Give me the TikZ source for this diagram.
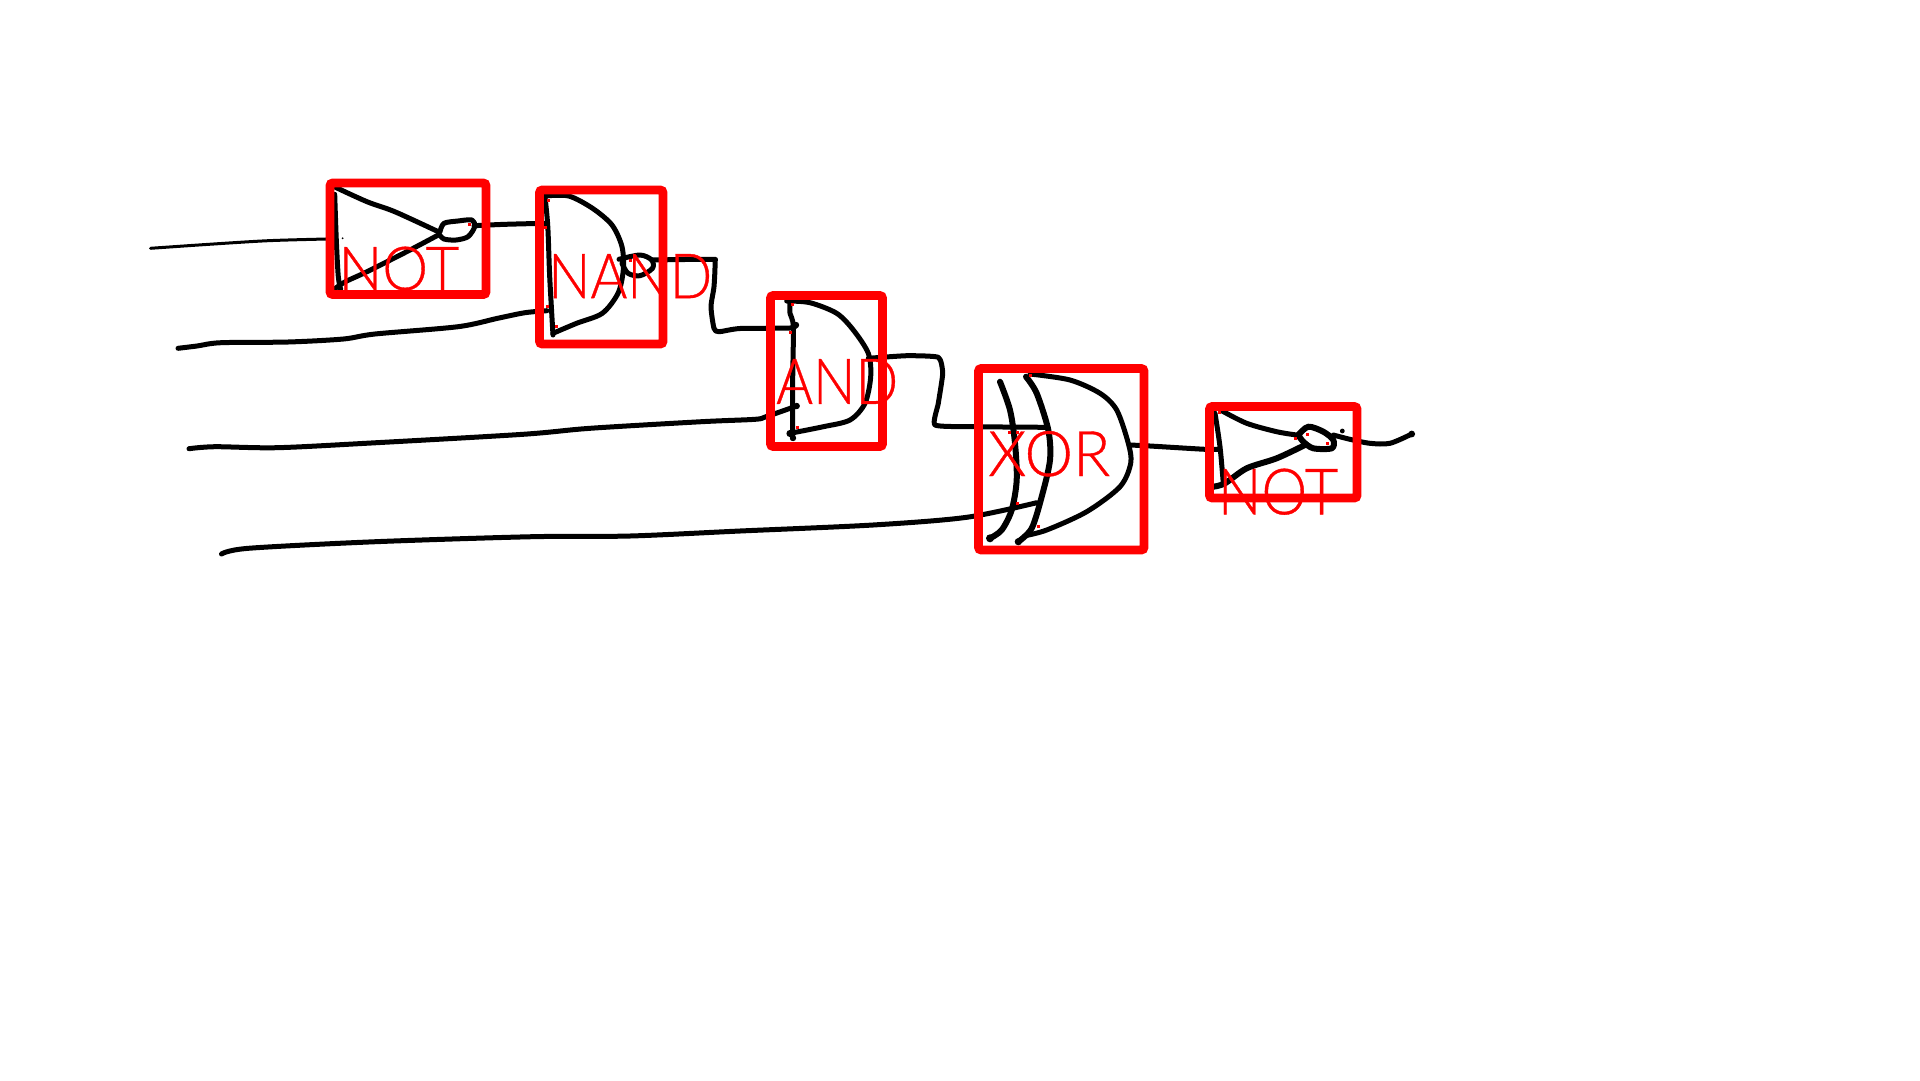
\documentclass[tikz,border=0pt]{standalone}
\usepackage{fontspec}
\usepackage{graphicx}
\newfontfamily\lblfont[FakeBold=0.6]{Lato Light}
\tikzset{
  ink/.style={draw=black,line width=5pt,line cap=round,line join=round},
  boldink/.style={draw=black,line width=6pt,line cap=round,line join=round},
  fineink/.style={draw=black,line width=3pt,line cap=round,line join=round},
  gatebox/.style={draw=boxred,line width=8.6pt,rounded corners=2.5pt,inner sep=0pt,fill=none},
  gatelabel/.style={text=boxred,inner sep=0pt,anchor=south west}
}
\definecolor{boxred}{RGB}{255,0,0}
\newcommand{\gatebox}[5]{\node[gatebox,minimum width=#4pt-#2pt,minimum height=#5pt-#3pt,anchor=center] (#1) at ({(#2+#4)/2},{(#3+#5)/2}) {};}
\newcommand{\gatetext}[6]{\node[gatelabel] (#1) at (#2,#5) {\resizebox{#6pt}{#4pt}{\lblfont #3}};}
\begin{document}
\begin{tikzpicture}[x=1pt,y=-1pt]
\useasboundingbox (0,0) rectangle (1920,1080);
\fill[white] (0,0) rectangle (1920,1080);
% input wires
\draw[fineink] plot[smooth,tension=.5] coordinates {(150.5,248.3)(209,244.3)(268,240.7)(325.7,239)(335,238.8)};
\draw[ink] plot[smooth,tension=.5] coordinates {(178,348.3)(197,346)(221,342.7)(288,342)(343.4,339)(375,334)(458,326.7)(497.6,318.3)(525,312.7)(547,310.7)};
\draw[ink] plot[smooth,tension=.5] coordinates {(189,448.7)(215,446.7)(277,447.7)(371,443)(523,434.3)(590,428.3)(701.4,421.7)(755,419.3)(766,416.7)(796.7,406)};
\draw[ink] plot[smooth,tension=.5] coordinates {(221.5,554)(248.3,548.3)(375.5,541.7)(532,536.7)(630,536)(740,531)(873,525)(966.7,517.3)(1036.7,502.7)};
% NOT gate 1
\draw[ink] plot[smooth,tension=.5] coordinates {(334.7,194.3)(336.3,240)(338.3,276.7)(340.7,289.3)};
\draw[ink] plot[smooth,tension=.5] coordinates {(335.5,187.3)(367,201.7)(394.8,211.7)(438.3,231.7)};
\draw[ink] plot[smooth,tension=.5] coordinates {(438.3,235)(406.7,251.7)(367,271.7)(345.4,281.7)(335.5,288.3)};
\draw[ink] plot[smooth,tension=.5] coordinates {(440,231.7)(444,223.3)(458,221)(472,220)(474.7,226.7)(468,236.7)(456,240)(444,239)(439,234)};
\draw[ink] plot[smooth,tension=.5] coordinates {(474,225.7)(505.5,224.3)(545,223.3)};
% NAND gate
\draw[ink] plot[smooth,tension=.5] coordinates {(545,196.7)(547.8,226.7)(549.7,276.7)(553,335)};
\draw[ink] plot[smooth,tension=.5] coordinates {(545,196)(568.7,196)(592.5,208.3)(612,225)(622,246.7)(623.3,270)(618,293.3)(602.3,313.3)(576.6,323.3)(553,333.3)};
\draw[ink] plot[smooth,tension=.5] coordinates {(619,259.3)(640,255)(651.7,260)(652.5,268.3)(640,275.7)(628,273.3)(622,263.3)};
\draw[ink] plot[smooth,tension=.4] coordinates {(651.7,260)(711,259.3)(715,261.7)(714,286.7)(711,306.7)(714,328.3)(719,331.7)(740,328.5)(790,328)(796,325)};
% AND gate
\draw[ink] plot[smooth,tension=.5] coordinates {(790,301.7)(790,313.3)(793.3,326.7)(792.7,380)(792.7,438.3)};
\draw[ink] plot[smooth,tension=.5] coordinates {(786.7,301)(810,302.7)(836.7,313.3)(853.3,330)(868.3,353.3)(870.7,376.7)(865,403.3)(850,420)(823.3,426.7)(790,433.3)};
\draw[ink] plot[smooth,tension=.3] coordinates {(868.3,358.3)(906.7,355.7)(938.3,357.3)(942.7,373.3)(938.3,403.3)(935,425)(973.3,426.7)(1046.7,427.3)};
\fill[black] (790,433.5) circle (3.6pt);
\fill[black] (793,438) circle (3.2pt);
\fill[black] (796.7,406) circle (3.2pt);
\fill[black] (796,325) circle (3.2pt);
% XOR gate
\draw[boldink] plot[smooth,tension=.5] coordinates {(1000,381.7)(1010,410)(1015,443.3)(1016.7,480)(1011.7,510)(1001.7,530)(990,538.3)};
\draw[boldink] plot[smooth,tension=.5] coordinates {(1026,376.7)(1036.7,393.3)(1048.3,430)(1050,460)(1041.7,496.7)(1031.7,528.3)(1018.3,541.7)};
\draw[ink] plot[smooth,tension=.5] coordinates {(1030,374)(1070,380)(1100,393.3)(1116.7,410)(1128.3,443.3)(1130.7,463.3)(1120,486.7)(1086.7,511.7)(1046.7,530)(1025,535.7)};
\draw[ink] plot[smooth,tension=.5] coordinates {(1130,445)(1150,446)(1205,449.3)(1218.3,449.3)};
\fill[black] (990,538.3) circle (4pt);
\fill[black] (1018.3,541.7) circle (3.6pt);
% NOT gate 2
\draw[ink] plot[smooth,tension=.5] coordinates {(1215,413.3)(1220,446.7)(1223.3,483.3)};
\draw[ink] plot[smooth,tension=.5] coordinates {(1221.7,410.7)(1246.7,423.3)(1276.7,431.7)(1296.7,435)};
\draw[boldink] plot[smooth,tension=.5] coordinates {(1305,445)(1276.7,458.3)(1246.7,468.3)(1225,483.3)(1213.3,486.7)};
\draw[boldink] plot[smooth,tension=.5] coordinates {(1298.3,435)(1308.3,426.7)(1323.3,431.7)(1333.3,440)(1331.7,448.3)(1313.3,448.3)(1303.3,441.7)(1298.3,435)};
\draw[ink] plot[smooth,tension=.5] coordinates {(1333.3,435)(1350,439.3)(1370,443.3)(1390,443.3)(1411.7,434)};
\fill[black] (1411.7,434) circle (3.4pt);
\fill[black] (1342.3,431) circle (2.4pt);
\fill[black] (342.6,238.3) circle (1pt);
% red specks
\foreach \p in {(469,224),(548,200),(545,227.7),(547,306.7),(556,326),(630,260),(792.3,304.3),(790,332.3),(797.3,427),(1030,375),(1009.3,432.3),(1017.7,432.3),(1017.3,503.3),(1038.3,526),(1219,412.7),(1295.3,438.3),(1307.3,434),(1327.3,443.3)}
  \fill[boxred] \p +(-1.5,-1.5) rectangle +(1.5,1.5);
% boxes
\gatebox{notA}{330}{183}{486}{294.5}
\gatebox{nandA}{539.5}{190}{663}{344}
\gatebox{andA}{770.5}{295.5}{882.5}{446.5}
\gatebox{xorA}{978.5}{368.5}{1144}{550}
\gatebox{notB}{1209.5}{406.5}{1357}{498}
% labels
\gatetext{notAl}{338.4}{NOT}{43.4}{290.7}{120.6}
\gatetext{nandAl}{548}{NAND}{44}{298.3}{164}
\gatetext{andAl}{776}{AND}{44.7}{404}{122}
\gatetext{xorAl}{988}{XOR}{45}{476.7}{122}
\gatetext{notBl}{1217.7}{NOT}{45.7}{515}{120.3}
\end{tikzpicture}
\end{document}
